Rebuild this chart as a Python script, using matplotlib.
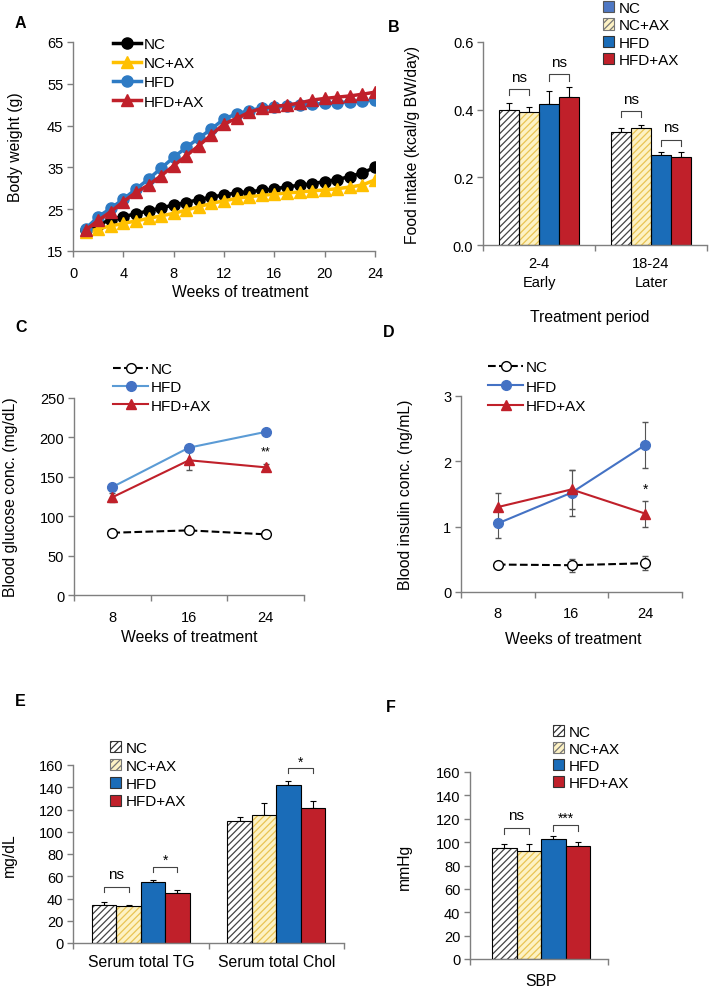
import matplotlib
matplotlib.use("Agg")
import matplotlib.pyplot as plt
from matplotlib.patches import Patch
from matplotlib.lines import Line2D
import numpy as np

plt.rcParams['font.family'] = ['Liberation Sans', 'DejaVu Sans']
plt.rcParams['font.size'] = 11
plt.rcParams['hatch.linewidth'] = 0.9

# ---------------- data ----------------
weeks = list(range(1, 25))
bw_nc = [20, 21.3, 22.5, 23.2, 23.9, 24.6, 25.3, 26, 26.6, 27.3, 27.9, 28.4,
         28.9, 29.2, 29.5, 29.8, 30.4, 30.7, 31.1, 31.6, 32.1, 32.8, 33.7, 35]
bw_ncax = [19.5, 20.3, 21, 21.6, 22.2, 22.8, 23.4, 24, 24.8, 25.6, 26.4, 27,
           27.6, 28, 28.3, 28.6, 28.9, 29.1, 29.4, 29.6, 29.9, 30.3, 30.8, 32]
bw_hfd = [20.3, 23.2, 25.2, 27.4, 29.8, 32.2, 34.8, 37.4, 39.8, 42, 44.2, 46.6,
          47.8, 48.6, 49.2, 49.4, 49.7, 49.9, 50.1, 50.3, 50.5, 50.7, 50.9, 51.1]
bw_hfdax = [20, 22.3, 24.4, 26.8, 29, 30.8, 33, 35.4, 37.8, 40.2, 42.8, 45.4,
            46.7, 48.2, 49.1, 49.6, 49.9, 50.4, 51.1, 51.5, 51.8, 52.1, 52.5, 53]

groups = ['NC', 'NC+AX', 'HFD', 'HFD+AX']

fi_periods = ['2-4\nEarly', '18-24\nLater']
fi_mean = {'NC': [0.398, 0.333], 'NC+AX': [0.393, 0.346],
           'HFD': [0.418, 0.265], 'HFD+AX': [0.438, 0.260]}
fi_err = {'NC': [0.022, 0.012], 'NC+AX': [0.015, 0.010],
          'HFD': [0.037, 0.010], 'HFD+AX': [0.030, 0.015]}

tp_weeks = ['8', '16', '24']
glu_nc = [79, 82, 77]
glu_nc_err = [1.5, 1.5, 1.5]
glu_hfd = [137, 187, 207]
glu_hfd_err = [3, 3, 3]
glu_hfdax = [124, 171, 162]
glu_hfdax_err = [6, 12, 4]

ins_nc = [0.42, 0.41, 0.44]
ins_nc_err = [0.03, 0.10, 0.11]
ins_hfd = [1.05, 1.52, 2.25]
ins_hfd_err = [0.22, 0.35, 0.35]
ins_hfdax = [1.30, 1.57, 1.20]
ins_hfdax_err = [0.21, 0.30, 0.20]

lip_cats = ['Serum total TG', 'Serum total Chol']
lip_mean = {'NC': [34, 110], 'NC+AX': [33, 115], 'HFD': [55, 142], 'HFD+AX': [45, 121]}
lip_err = {'NC': [2.5, 3], 'NC+AX': [1.5, 11], 'HFD': [1.5, 3.5], 'HFD+AX': [2.5, 7]}

sbp_cats = ['SBP']
sbp_mean = {'NC': [95], 'NC+AX': [92.5], 'HFD': [102.5], 'HFD+AX': [97]}
sbp_err = {'NC': [3.5], 'NC+AX': [5.5], 'HFD': [2.5], 'HFD+AX': [3.5]}

# ---------------- styles ----------------
C_BLACK = '#000000'
C_GOLD = '#ffc000'
C_BLUE_LINE = '#2e7bc4'
C_RED = '#c0202a'
C_BAR_BLUE = '#1a6cb8'
C_LYELLOW = '#fdf2c4'
C_HYELLOW = '#e9c452'
C_SPINE = '#7f7f7f'
TICK_FS = 10.5
LAB_FS = 11.3

W, H = 709, 987
fig = plt.figure(figsize=(W / 100, H / 100), dpi=100)


def add_ax(l, r, t, b):
    return fig.add_axes([l / W, 1 - b / H, (r - l) / W, (b - t) / H])


def style(ax):
    for s in ['top', 'right']:
        ax.spines[s].set_visible(False)
    for s in ['left', 'bottom']:
        ax.spines[s].set_color(C_SPINE)
        ax.spines[s].set_linewidth(1.0)
    ax.tick_params(which='both', direction='out', color=C_SPINE, length=4, width=1,
                   labelsize=TICK_FS, pad=3)


def ylabel_at(ax, text, xpx, l, r):
    ax.set_ylabel(text, fontsize=LAB_FS)
    ax.yaxis.set_label_coords((xpx - l) / (r - l), 0.5)


def xlabel_at(ax, text, xpx, ypx_top, l, r, t, b):
    ax.set_xlabel(text, fontsize=LAB_FS)
    ax.xaxis.set_label_coords((xpx - l) / (r - l), -(ypx_top - b) / (b - t))


def fleg(ax, handles, labels, xpx, ypx, spacing, hl=0.75, hh=0.75, pad=0.3):
    ax.legend(handles, labels, loc='upper left',
              bbox_to_anchor=(xpx / W, 1 - ypx / H), bbox_transform=fig.transFigure,
              frameon=False, borderpad=0, borderaxespad=0, labelspacing=spacing,
              handlelength=hl, handleheight=hh, handletextpad=pad, fontsize=11)


def panel_letter(xpx, ypx, s):
    fig.text(xpx / W, 1 - ypx / H, s, fontsize=11.5, fontweight='bold', ha='left', va='center')


def draw_bars(ax, means, errs, width):
    n = len(means['NC'])
    x = np.arange(n)
    pos = {}
    for i, g in enumerate(groups):
        xs = x + (i - 1.5) * width
        pos[g] = xs
        v = means[g]
        e = errs[g]
        ax.errorbar(xs, v, yerr=[[0] * n, e], fmt='none', ecolor='black',
                    elinewidth=0.8, capsize=2.5, capthick=0.8, zorder=1)
        if g == 'NC':
            ax.bar(xs, v, width, facecolor='white', edgecolor='#444444', hatch='/////',
                   linewidth=0, zorder=2)
            ax.bar(xs, v, width, fill=False, edgecolor='black', linewidth=0.8, zorder=3)
        elif g == 'NC+AX':
            ax.bar(xs, v, width, facecolor=C_LYELLOW, edgecolor=C_HYELLOW, hatch='/////',
                   linewidth=0, zorder=2)
            ax.bar(xs, v, width, fill=False, edgecolor='black', linewidth=0.8, zorder=3)
        else:
            col = C_BAR_BLUE if g == 'HFD' else C_RED
            ax.bar(xs, v, width, color=col, edgecolor='black', linewidth=0.8, zorder=2)
    return pos


def bracket(ax, x1, x2, top, leg, text, toff):
    ax.plot([x1, x1, x2, x2], [top - leg, top, top, top - leg], color='#444444',
            lw=0.8, zorder=4)
    ax.annotate(text, xy=((x1 + x2) / 2, top), xytext=(0, toff), textcoords='offset points',
                ha='center', va='center', fontsize=11 if text == 'ns' else 10)


def bar_legend_handles(nc_blue=False):
    if nc_blue:
        h_nc = Patch(facecolor='#4f78c4', edgecolor='#555555', linewidth=0.8)
    else:
        h_nc = Patch(facecolor='white', edgecolor='#333333', hatch='/////', linewidth=0.8)
    h_ncax = Patch(facecolor=C_LYELLOW, edgecolor='#777777', hatch='/////', linewidth=0.8)
    h_hfd = Patch(facecolor=C_BAR_BLUE, edgecolor='#333333', linewidth=0.8)
    h_hfdax = Patch(facecolor=C_RED, edgecolor='#333333', linewidth=0.8)
    return [h_nc, h_ncax, h_hfd, h_hfdax]


# ---------------- Panel A ----------------
L, R, T, B = 73, 375, 43, 252
axA = add_ax(L, R, T, B)
style(axA)
axA.plot(weeks, bw_nc, '-o', color=C_BLACK, lw=2.5, ms=8, label='NC')
axA.plot(weeks, bw_ncax, '-^', color=C_GOLD, lw=2.5, ms=8, label='NC+AX')
axA.plot(weeks, bw_hfd, '-o', color=C_BLUE_LINE, lw=2.5, ms=8, label='HFD')
axA.plot(weeks, bw_hfdax, '-^', color=C_RED, lw=2.5, ms=8, label='HFD+AX')
axA.set_xlim(0, 24)
axA.set_ylim(15, 65)
axA.set_xticks(range(0, 25, 4))
axA.set_yticks(range(15, 66, 10))
axA.tick_params(axis='x', pad=7)
xlabel_at(axA, 'Weeks of treatment', 240, 285, L, R, T, B)
ylabel_at(axA, 'Body weight (g)', 23, L, R)
h, lab = axA.get_legend_handles_labels()
fleg(axA, h, lab, 113, 38, 0.34, hl=1.85, hh=0.7, pad=0.15)
panel_letter(15, 23, 'A')

# ---------------- Panel B ----------------
L, R, T, B = 483, 707, 43, 246
axB = add_ax(L, R, T, B)
style(axB)
bw = 0.18
posB = draw_bars(axB, fi_mean, fi_err, bw)
axB.set_xlim(-0.5, 1.5)
axB.set_ylim(0, 0.6)
axB.set_yticks([0, 0.2, 0.4, 0.6])
axB.set_yticklabels(['0.0', '0.2', '0.4', '0.6'])
axB.set_xticks([0, 1])
axB.set_xticklabels(fi_periods, linespacing=1.4)
axB.set_xticks([-0.5, 0.5, 1.5], minor=True)
axB.tick_params(axis='x', which='major', length=0, pad=8)
xlabel_at(axB, 'Treatment period', 590, 310, L, R, T, B)
ylabel_at(axB, 'Food intake (kcal/g BW/day)', 420, L, R)
for k in range(2):
    for (g1, g2, off) in [('NC', 'NC+AX', 0.04), ('HFD', 'HFD+AX', 0.036)]:
        top = max(fi_mean[g1][k] + fi_err[g1][k], fi_mean[g2][k] + fi_err[g2][k]) + off
        bracket(axB, posB[g1][k], posB[g2][k], top, 0.018, 'ns', 9)
fleg(axB, bar_legend_handles(nc_blue=True), groups, 603, 2, 0.22)
panel_letter(388, 27, 'B')

# ---------------- Panel C ----------------
L, R, T, B = 74, 304, 399, 596
axC = add_ax(L, R, T, B)
style(axC)
xc = np.arange(1, 4)
axC.errorbar(xc, glu_nc, yerr=glu_nc_err, fmt='--o', color='black', mfc='white',
             mec='black', lw=1.5, ms=7, capsize=2, elinewidth=0.8)
axC.errorbar(xc, glu_hfd, yerr=glu_hfd_err, fmt='-o', color='#5b9bd5', mfc='#4472c4',
             mec='#4472c4', lw=1.5, ms=7, capsize=2, elinewidth=0.8, ecolor='#555555')
axC.errorbar(xc, glu_hfdax, yerr=glu_hfdax_err, fmt='-^', color=C_RED, lw=1.5, ms=7,
             capsize=2, elinewidth=0.8, ecolor='#555555')
axC.set_xlim(0.5, 3.5)
axC.set_ylim(0, 250)
axC.set_yticks(range(0, 251, 50))
axC.set_xticks(xc)
axC.set_xticklabels(tp_weeks)
axC.set_xticks([0.5, 1.5, 2.5, 3.5], minor=True)
axC.tick_params(axis='x', which='major', length=0, pad=11)
xlabel_at(axC, 'Weeks of treatment', 189, 630, L, R, T, B)
ylabel_at(axC, 'Blood glucose conc. (mg/dL)', 18, L, R)
axC.annotate('**', xy=(xc[2], glu_hfdax[2] + glu_hfdax_err[2]), xytext=(0, 9),
             textcoords='offset points', ha='center', va='center', fontsize=9)
hC = [Line2D([], [], color='black', ls='--', lw=1.5, marker='o', mfc='white', ms=7),
      Line2D([], [], color='#5b9bd5', lw=1.5, marker='o', mfc='#4472c4', mec='#4472c4', ms=7),
      Line2D([], [], color=C_RED, lw=1.5, marker='^', ms=7)]
fleg(axC, hC, ['NC', 'HFD', 'HFD+AX'], 113, 363, 0.28, hl=2.3, hh=0.7, pad=0.15)
panel_letter(15, 327, 'C')

# ---------------- Panel D ----------------
L, R, T, B = 461, 682, 397, 593
axD = add_ax(L, R, T, B)
style(axD)
axD.errorbar(xc, ins_nc, yerr=ins_nc_err, fmt='--o', color='black', mfc='white',
             mec='black', lw=1.5, ms=7, capsize=2, elinewidth=0.8, ecolor='#555555')
axD.errorbar(xc, ins_hfd, yerr=ins_hfd_err, fmt='-o', color='#4472c4', mfc='#4472c4',
             lw=1.5, ms=7, capsize=2, elinewidth=0.8, ecolor='#555555')
axD.errorbar(xc, ins_hfdax, yerr=ins_hfdax_err, fmt='-^', color=C_RED, lw=1.5, ms=7,
             capsize=2, elinewidth=0.8, ecolor='#555555')
axD.set_xlim(0.5, 3.5)
axD.set_ylim(0, 3)
axD.set_yticks([0, 1, 2, 3])
axD.set_xticks(xc)
axD.set_xticklabels(tp_weeks)
axD.set_xticks([0.5, 1.5, 2.5, 3.5], minor=True)
axD.tick_params(axis='x', which='major', length=0, pad=10)
xlabel_at(axD, 'Weeks of treatment', 573, 632, L, R, T, B)
ylabel_at(axD, 'Blood insulin conc. (ng/mL)', 413, L, R)
axD.annotate('*', xy=(xc[2], ins_hfdax[2] + ins_hfdax_err[2]), xytext=(0, 8.5),
             textcoords='offset points', ha='center', va='center', fontsize=10)
hD = [Line2D([], [], color='black', ls='--', lw=1.5, marker='o', mfc='white', ms=7),
      Line2D([], [], color='#4472c4', lw=1.5, marker='o', ms=7),
      Line2D([], [], color=C_RED, lw=1.5, marker='^', ms=7)]
fleg(axD, hD, ['NC', 'HFD', 'HFD+AX'], 488, 361, 0.37, hl=2.3, hh=0.7, pad=0.15)
panel_letter(383, 333, 'D')

# ---------------- Panel E ----------------
L, R, T, B = 73, 344, 766, 944
axE = add_ax(L, R, T, B)
style(axE)
posE = draw_bars(axE, lip_mean, lip_err, bw)
axE.set_xlim(-0.5, 1.5)
axE.set_ylim(0, 160)
axE.set_yticks(range(0, 161, 20))
axE.set_xticks([0, 1])
axE.set_xticklabels(lip_cats, fontsize=LAB_FS)
axE.set_xticks([-0.5, 0.5, 1.5], minor=True)
axE.tick_params(axis='x', which='major', length=0, pad=8)
ylabel_at(axE, 'mg/dL', 17, L, R)


def top_of(means, errs, g1, g2, k):
    return max(means[g1][k] + errs[g1][k], means[g2][k] + errs[g2][k])


bracket(axE, posE['NC'][0], posE['NC+AX'][0], top_of(lip_mean, lip_err, 'NC', 'NC+AX', 0) + 14,
        4.5, 'ns', 9)
bracket(axE, posE['HFD'][0], posE['HFD+AX'][0], top_of(lip_mean, lip_err, 'HFD', 'HFD+AX', 0) + 12,
        4.5, '*', 5)
bracket(axE, posE['HFD'][1], posE['HFD+AX'][1], top_of(lip_mean, lip_err, 'HFD', 'HFD+AX', 1) + 11.5,
        4.5, '*', 5)
fleg(axE, bar_legend_handles(), groups, 110, 742, 0.25)
panel_letter(15, 702, 'E')

# ---------------- Panel F ----------------
L, R, T, B = 470, 608, 773, 960
axF = add_ax(L, R, T, B)
style(axF)
posF = draw_bars(axF, sbp_mean, sbp_err, 0.178)
axF.set_xlim(-0.515, 0.485)
axF.set_ylim(0, 160)
axF.set_yticks(range(0, 161, 20))
axF.set_xticks([0])
axF.set_xticklabels(sbp_cats, fontsize=LAB_FS)
axF.set_xticks([-0.515, 0.485], minor=True)
axF.tick_params(axis='x', which='major', length=0, pad=10)
ylabel_at(axF, 'mmHg', 412, L, R)
bracket(axF, posF['NC'][0], posF['NC+AX'][0], top_of(sbp_mean, sbp_err, 'NC', 'NC+AX', 0) + 14,
        5.5, 'ns', 9)
bracket(axF, posF['HFD'][0], posF['HFD+AX'][0], top_of(sbp_mean, sbp_err, 'HFD', 'HFD+AX', 0) + 10,
        5.5, '***', 5)
fleg(axF, bar_legend_handles(), groups, 553, 726, 0.2)
panel_letter(386, 707, 'F')

fig.savefig('out.png', dpi=100)
